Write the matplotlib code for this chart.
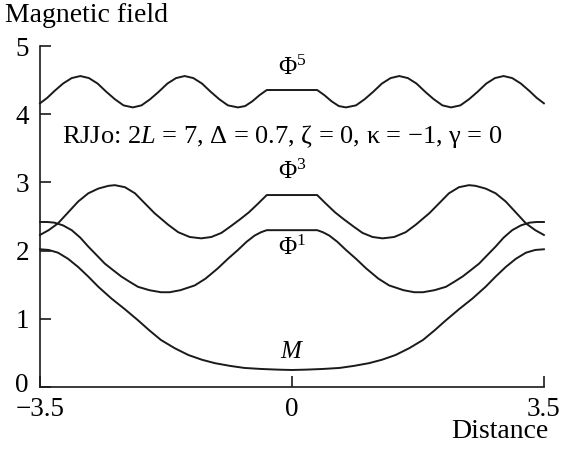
import matplotlib
matplotlib.use("Agg")
import matplotlib.pyplot as plt
from matplotlib.transforms import ScaledTranslation

plt.rcParams['font.family'] = ['Liberation Serif', 'DejaVu Serif']
plt.rcParams['mathtext.fontset'] = 'custom'
plt.rcParams['mathtext.rm'] = 'Liberation Serif'
plt.rcParams['mathtext.it'] = 'Liberation Serif:italic'

# field profiles along the junction (symmetric about the centre)
x_phi5 = [-3.5, -3.4, -3.3, -3.18, -3.06, -2.94, -2.82, -2.7, -2.58, -2.46, -2.34, -2.21,
          -2.09, -1.97, -1.85, -1.73, -1.61, -1.49, -1.37, -1.25, -1.13, -1.01, -0.89, -0.75,
          -0.65, -0.55, -0.45, -0.35,
          0.35, 0.45, 0.55, 0.65, 0.75, 0.89, 1.01, 1.13, 1.25, 1.37, 1.49, 1.61, 1.73, 1.85,
          1.97, 2.09, 2.21, 2.34, 2.46, 2.58, 2.7, 2.82, 2.94, 3.06, 3.18, 3.3, 3.4, 3.5]
phi5 = [4.16, 4.24, 4.34, 4.45, 4.53, 4.56, 4.53, 4.45, 4.33, 4.22, 4.13, 4.10,
        4.13, 4.22, 4.33, 4.45, 4.53, 4.56, 4.53, 4.45, 4.33, 4.22, 4.13, 4.10,
        4.12, 4.19, 4.28, 4.355,
        4.355, 4.28, 4.19, 4.12, 4.10, 4.13, 4.22, 4.33, 4.45, 4.53, 4.56, 4.53, 4.45, 4.33,
        4.22, 4.13, 4.10, 4.13, 4.22, 4.33, 4.45, 4.53, 4.56, 4.53, 4.45, 4.34, 4.24, 4.16]

x_phi3 = [-3.5, -3.38, -3.25, -3.11, -2.97, -2.83, -2.69, -2.55, -2.46, -2.32, -2.18, -2.05,
          -1.91, -1.72, -1.58, -1.42, -1.26, -1.12, -0.98, -0.86, -0.72, -0.6, -0.48, -0.35,
          0.35, 0.48, 0.6, 0.72, 0.86, 0.98, 1.12, 1.26, 1.42, 1.58, 1.72, 1.91,
          2.05, 2.18, 2.32, 2.46, 2.55, 2.69, 2.83, 2.97, 3.11, 3.25, 3.38, 3.5]
phi3 = [2.23, 2.30, 2.40, 2.56, 2.72, 2.84, 2.91, 2.95, 2.96, 2.93, 2.84, 2.70,
        2.55, 2.38, 2.27, 2.20, 2.18, 2.20, 2.26, 2.35, 2.46, 2.56, 2.68, 2.815,
        2.815, 2.68, 2.56, 2.46, 2.35, 2.26, 2.20, 2.18, 2.20, 2.27, 2.38, 2.55,
        2.70, 2.84, 2.93, 2.96, 2.95, 2.91, 2.84, 2.72, 2.56, 2.40, 2.30, 2.23]

x_phi1 = [-3.5, -3.4, -3.3, -3.18, -3.06, -2.94, -2.83, -2.71, -2.6, -2.48, -2.37, -2.25,
          -2.14, -1.98, -1.82, -1.7, -1.55, -1.35, -1.2, -1.03, -0.89, -0.75, -0.63, -0.52,
          -0.43, -0.35,
          0.35, 0.43, 0.52, 0.63, 0.75, 0.89, 1.03, 1.2, 1.35, 1.55, 1.7, 1.82, 1.98,
          2.14, 2.25, 2.37, 2.48, 2.6, 2.71, 2.83, 2.94, 3.06, 3.18, 3.3, 3.4, 3.5]
phi1 = [2.42, 2.42, 2.41, 2.37, 2.30, 2.19, 2.06, 1.93, 1.81, 1.71, 1.62, 1.54,
        1.47, 1.42, 1.39, 1.39, 1.42, 1.49, 1.59, 1.74, 1.88, 2.01, 2.13, 2.22,
        2.27, 2.30,
        2.30, 2.27, 2.22, 2.13, 2.01, 1.88, 1.74, 1.59, 1.49, 1.42, 1.39, 1.39, 1.42,
        1.47, 1.54, 1.62, 1.71, 1.81, 1.93, 2.06, 2.19, 2.30, 2.37, 2.41, 2.42, 2.42]

x_m = [-3.5, -3.38, -3.25, -3.11, -2.97, -2.83, -2.69, -2.51, -2.32, -2.14, -1.98, -1.82,
       -1.63, -1.44, -1.25, -1.07, -0.86, -0.66, -0.43, -0.19, 0.0,
       0.19, 0.43, 0.66, 0.86, 1.07, 1.25, 1.44, 1.63, 1.82, 1.98, 2.14, 2.32, 2.51,
       2.69, 2.83, 2.97, 3.11, 3.25, 3.38, 3.5]
m_field = [2.02, 2.01, 1.97, 1.88, 1.76, 1.62, 1.47, 1.30, 1.14, 0.98, 0.83, 0.69,
           0.57, 0.47, 0.40, 0.35, 0.31, 0.28, 0.265, 0.255, 0.25,
           0.255, 0.265, 0.28, 0.31, 0.35, 0.40, 0.47, 0.57, 0.69, 0.83, 0.98, 1.14, 1.30,
           1.47, 1.62, 1.76, 1.88, 1.97, 2.01, 2.02]

fig = plt.figure(figsize=(5.7, 4.49), dpi=100)
ax = fig.add_axes([0.0702, 0.138, 0.884, 0.7595])

for xs, ys in [(x_phi5, phi5), (x_phi3, phi3), (x_phi1, phi1), (x_m, m_field)]:
    ax.plot(xs, ys, color='#1a1a1a', lw=1.4, clip_on=False, solid_joinstyle='round')

ax.set_xlim(-3.5, 3.5)
ax.set_ylim(0, 5)
ax.spines['top'].set_visible(False)
ax.spines['right'].set_visible(False)
for s in ['left', 'bottom']:
    ax.spines[s].set_linewidth(1.2)
    ax.spines[s].set_color('#1a1a1a')

ax.set_xticks([-3.5, 0, 3.5])
ax.set_xticklabels(['\u22123.5', '0', '3.5'])
ax.set_yticks([0, 1, 2, 3, 4, 5])
ax.tick_params(direction='in', length=8, width=1.2, labelsize=19.5, color='#1a1a1a')
ax.tick_params(axis='y', pad=8)
ax.tick_params(axis='x', pad=7)

# lift the bottom y label a little so it clears the x label below it
zero_lbl = ax.yaxis.get_major_ticks()[0].label1
zero_lbl.set_transform(zero_lbl.get_transform() + ScaledTranslation(0, 0.05, fig.dpi_scale_trans))

ax.text(0, 4.68, r'$\Phi^5$', ha='center', va='center', fontsize=18)
ax.text(0, 3.15, r'$\Phi^3$', ha='center', va='center', fontsize=18)
ax.text(0, 2.04, r'$\Phi^1$', ha='center', va='center', fontsize=18)
ax.text(0, 0.51, r'$M$', ha='center', va='center', fontsize=18)
ax.text(-3.19, 3.67, 'RJJo: 2$L$ = 7, \u0394 = 0.7, \u03b6 = 0, \u03ba = \u22121, \u03b3 = 0',
        ha='left', va='center', fontsize=19)

fig.text(5 / 570, 1 - 16 / 449, 'Magnetic field', ha='left', va='center', fontsize=20)
fig.text(548 / 570, 1 - 432 / 449, 'Distance', ha='right', va='center', fontsize=20)

fig.savefig('out.png', dpi=100)
